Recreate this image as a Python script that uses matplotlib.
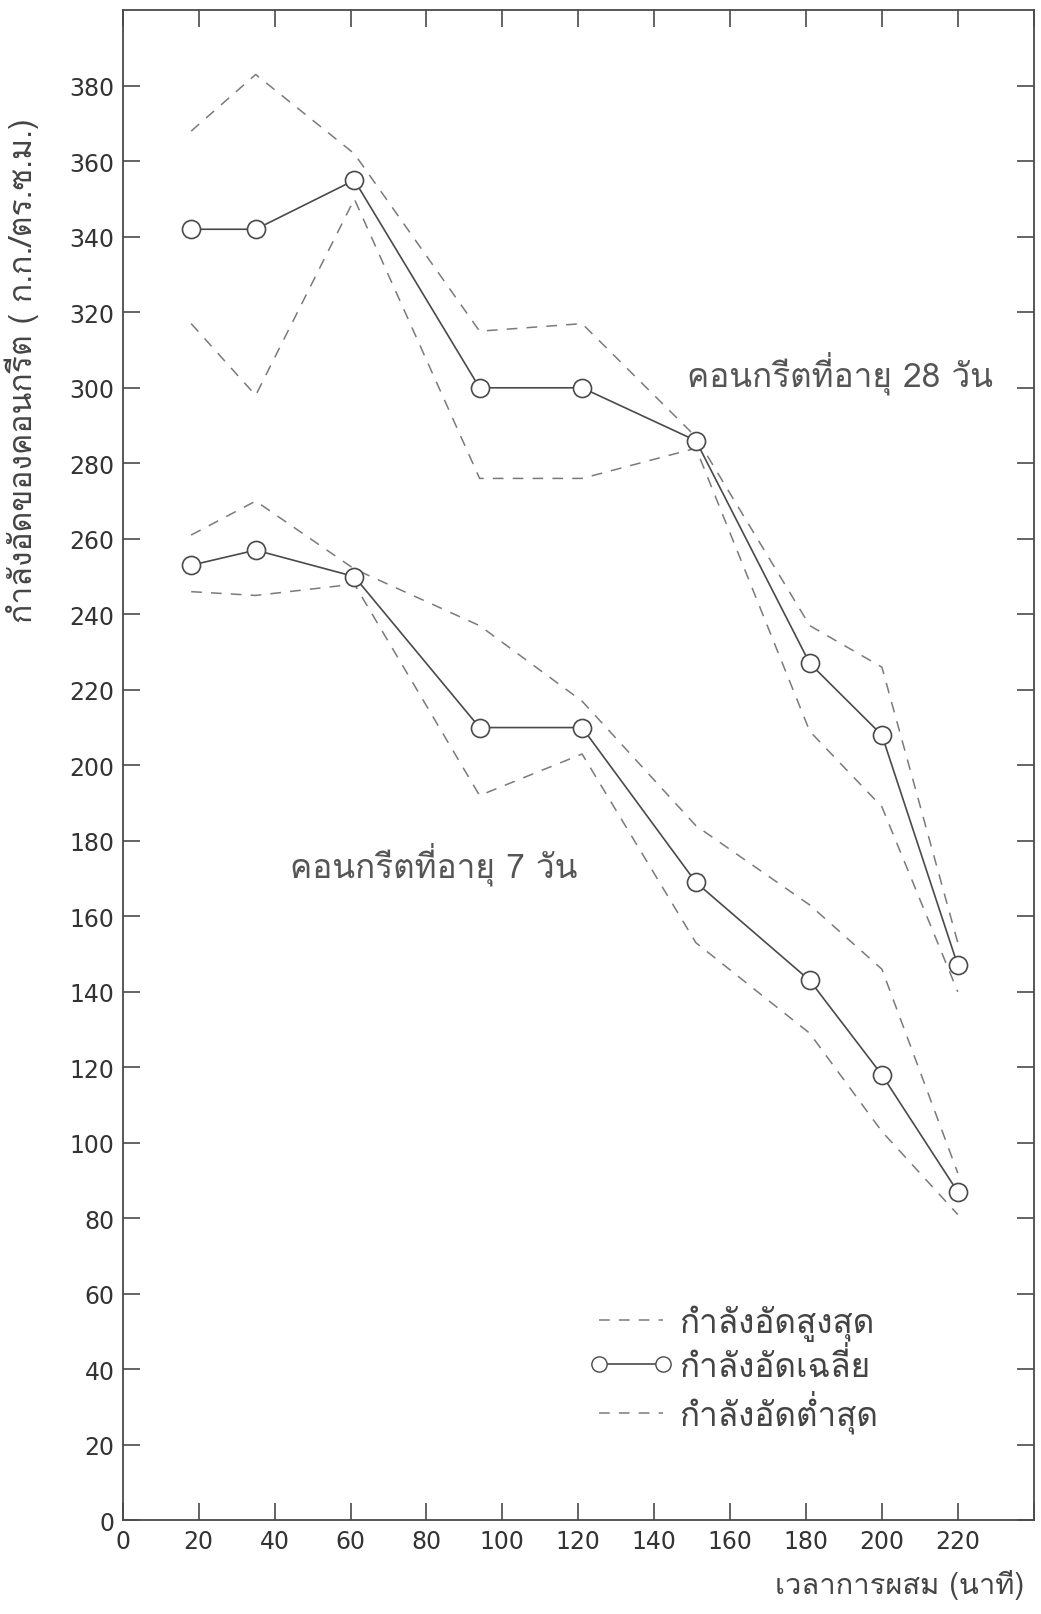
import matplotlib
matplotlib.use("Agg")
import matplotlib.pyplot as plt
from matplotlib import font_manager
from matplotlib.ft2font import FT2Font
from matplotlib.lines import Line2D

# mixing time (minutes)
mix_time = [18, 35, 61, 94, 121, 151, 181, 200, 220]

# 28 day concrete (kg/cm2)
max_28 = [368, 383, 362, 315, 317, 287, 237, 226, 153]
avg_28 = [342, 342, 355, 300, 300, 286, 227, 208, 147]
min_28 = [317, 298, 350, 276, 276, 284, 209, 189, 140]

# 7 day concrete (kg/cm2)
max_7 = [261, 270, 252, 237, 217, 184, 163, 146, 92]
avg_7 = [253, 257, 250, 210, 210, 169, 143, 118, 87]
min_7 = [246, 245, 248, 192, 203, 153, 129, 103, 81]

x_ticks = list(range(0, 241, 20))
x_labels = [str(v) for v in range(0, 221, 20)] + [""]
y_ticks = list(range(0, 381, 20))


def find_thai_font():
    for fe in font_manager.fontManager.ttflist:
        try:
            cmap = FT2Font(fe.fname).get_charmap()
        except Exception:
            continue
        if 0x0E01 in cmap and 0x0E33 in cmap:
            return fe.name
    return "DejaVu Sans"


thai = find_thai_font()
plt.rcParams['font.family'] = [thai, 'DejaVu Sans']

ink = '#4a4a4a'
dash_col = '#7a7a7a'

fig = plt.figure(figsize=(10.41, 16.15), dpi=100)
ax = fig.add_axes([0.118, 0.058, 0.875, 0.935])

dash = (0, (7, 6))
for mx, av, mn in [(max_28, avg_28, min_28), (max_7, avg_7, min_7)]:
    ax.plot(mix_time, mx, color=dash_col, lw=1.1, linestyle=dash)
    ax.plot(mix_time, mn, color=dash_col, lw=1.1, linestyle=dash)
    ax.plot(mix_time, av, color=ink, lw=1.2, marker='o', markersize=13,
            markerfacecolor='white', markeredgecolor=ink, markeredgewidth=1.2)

ax.set_xlim(0, 240)
ax.set_ylim(0, 400)
ax.set_xticks(x_ticks)
ax.set_xticklabels(x_labels)
ax.set_yticks(y_ticks)
ax.tick_params(direction='in', length=12, width=1.2, colors=ink,
               labelsize=17, labelcolor='#333333', top=True, right=True,
               labeltop=False, labelright=False, pad=6)
for tl in ax.get_xticklabels() + ax.get_yticklabels():
    tl.set_family('DejaVu Sans')
for sp in ax.spines.values():
    sp.set_color(ink)
    sp.set_linewidth(1.3)

ax.set_ylabel("กำลังอัดของคอนกรีต ( ก.ก./ตร.ซ.ม.)", fontsize=23, color='#444444')
ax.yaxis.set_label_coords(-0.092, 0.762)
ax.set_xlabel("เวลาการผสม (นาที)", fontsize=21, color='#444444')
ax.xaxis.set_label_coords(0.853, -0.032)

ax.text(189, 304, "คอนกรีตที่อายุ 28 วัน", fontsize=24, color='#555555',
        ha='center', va='center')
ax.text(82, 174, "คอนกรีตที่อายุ 7 วัน", fontsize=24, color='#555555',
        ha='center', va='center')

handles = [
    Line2D([], [], color=dash_col, lw=1.1, linestyle=dash),
    Line2D([], [], color=ink, lw=1.2, marker='o', markersize=11,
           markerfacecolor='white', markeredgecolor=ink),
    Line2D([], [], color=dash_col, lw=1.1, linestyle=dash),
]
labels = ["กำลังอัดสูงสุด", "กำลังอัดเฉลี่ย", "กำลังอัดต่ำสุด"]
ax.legend(handles, labels, loc='upper left', bbox_to_anchor=(0.512, 0.143),
          frameon=False, fontsize=24, handlelength=2.5, handletextpad=0.2,
          labelspacing=0.2, numpoints=2, labelcolor='#444444',
          borderpad=0, borderaxespad=0)

fig.savefig("out.png", dpi=100)
